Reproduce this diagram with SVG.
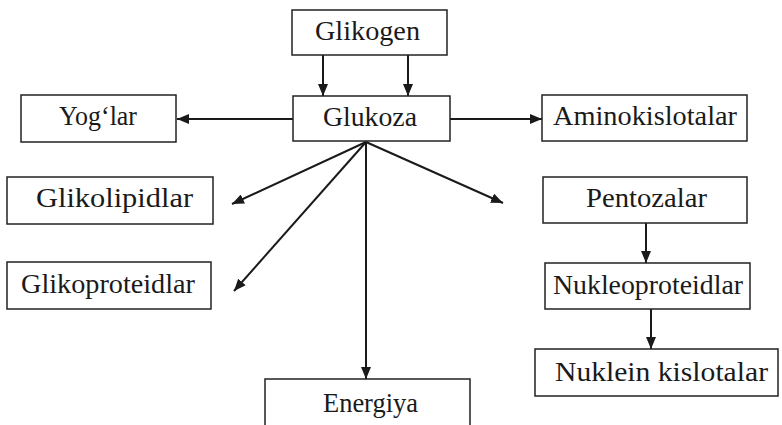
<svg xmlns="http://www.w3.org/2000/svg" width="782" height="425" viewBox="0 0 782 425">
<style>
.box{fill:#fff;stroke:#222;stroke-width:1.5}
.lbl{font-family:"Liberation Serif","Times New Roman",serif;font-size:27px;fill:#1a1a1a;text-anchor:start}
.con{stroke:#1a1a1a;stroke-width:2;fill:none;marker-end:url(#ah)}
</style>
<defs>
<marker id="ah" viewBox="0 0 12 10" refX="12" refY="5" markerWidth="12" markerHeight="10" markerUnits="userSpaceOnUse" orient="auto">
<path d="M0,0 L12,5 L0,10 Z" fill="#1a1a1a"/>
</marker>
</defs>
<rect width="782" height="425" fill="#fff"/>
<g id="connectors">
<line class="con" x1="323" y1="55" x2="323" y2="96"/>
<line class="con" x1="408" y1="55" x2="408" y2="96"/>
<line class="con" x1="293" y1="119" x2="177" y2="119"/>
<line class="con" x1="450" y1="119" x2="542" y2="119"/>
<line class="con" x1="366" y1="142" x2="232" y2="204"/>
<line class="con" x1="366" y1="142" x2="234" y2="291"/>
<line class="con" x1="366" y1="142" x2="503" y2="203"/>
<line class="con" x1="366" y1="142" x2="366" y2="379"/>
<line class="con" x1="646" y1="223" x2="646" y2="263"/>
<line class="con" x1="651" y1="309" x2="651" y2="349"/>
</g>
<g id="glikogen"><rect class="box" x="292" y="10" width="155" height="45"/><text class="lbl" x="315" y="40" textLength="105" lengthAdjust="spacingAndGlyphs">Glikogen</text></g>
<g id="glukoza"><rect class="box" x="293" y="96" width="157" height="45"/><text class="lbl" x="323" y="126" textLength="94" lengthAdjust="spacingAndGlyphs">Glukoza</text></g>
<g id="yoglar"><rect class="box" x="21" y="95" width="155" height="47"/><text class="lbl" x="59" y="125" textLength="78" lengthAdjust="spacingAndGlyphs">Yog‘lar</text></g>
<g id="glikolipidlar"><rect class="box" x="7" y="177" width="206" height="47"/><text class="lbl" x="36" y="207" textLength="157" lengthAdjust="spacingAndGlyphs">Glikolipidlar</text></g>
<g id="glikoproteidlar"><rect class="box" x="7" y="262" width="204" height="47"/><text class="lbl" x="21" y="293" textLength="174" lengthAdjust="spacingAndGlyphs">Glikoproteidlar</text></g>
<g id="aminokislotalar"><rect class="box" x="542" y="95" width="205" height="46"/><text class="lbl" x="553" y="125" textLength="184" lengthAdjust="spacingAndGlyphs">Aminokislotalar</text></g>
<g id="pentozalar"><rect class="box" x="543" y="177" width="204" height="46"/><text class="lbl" x="586" y="207" textLength="121" lengthAdjust="spacingAndGlyphs">Pentozalar</text></g>
<g id="nukleoproteidlar"><rect class="box" x="545" y="263" width="205" height="46"/><text class="lbl" x="553" y="294" textLength="190" lengthAdjust="spacingAndGlyphs">Nukleoproteidlar</text></g>
<g id="nuklein"><rect class="box" x="535" y="349" width="243" height="47"/><text class="lbl" x="555" y="381" textLength="213" lengthAdjust="spacingAndGlyphs">Nuklein kislotalar</text></g>
<g id="energiya"><path class="box" d="M265,432 L265,379 L470,379 L470,432"/><text class="lbl" x="323" y="412" textLength="95" lengthAdjust="spacingAndGlyphs">Energiya</text></g>
</svg>
